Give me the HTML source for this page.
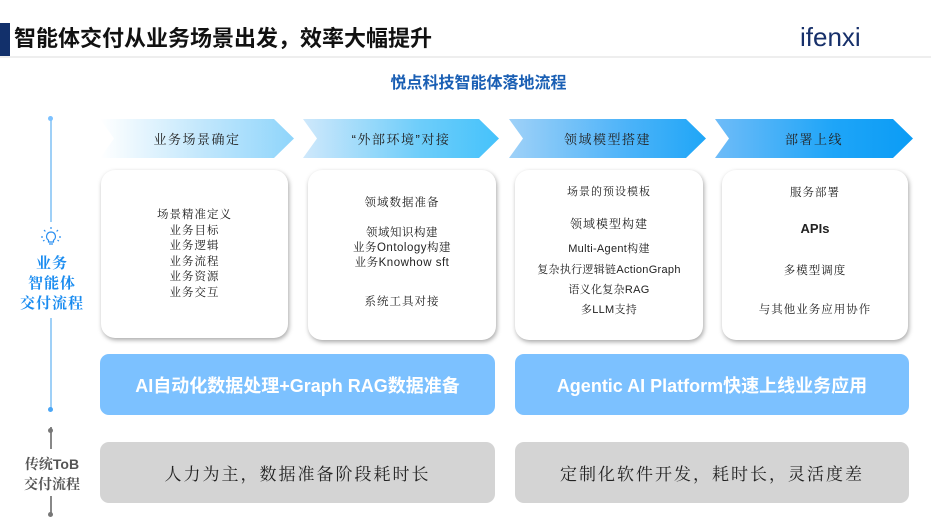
<!DOCTYPE html>
<html><head><meta charset="utf-8"><style>
*{margin:0;padding:0;box-sizing:border-box}
body{width:931px;height:525px;background:#fff;position:relative;overflow:hidden;font-family:"Liberation Sans","Noto Serif CJK SC",sans-serif;color:#222}
.a{position:absolute}
.card{position:absolute;background:#fff;border-radius:14px;box-shadow:1px 2px 5px rgba(0,0,0,.35);text-align:center;font-size:11.5px;color:#222;letter-spacing:1px}
.card div{position:absolute;left:0;right:0}
.chev{position:absolute;top:119px;height:39px;display:flex;align-items:center;justify-content:center;font-size:13px;color:#222;letter-spacing:1.5px;font-family:"Liberation Sans","Noto Serif CJK SC",serif;clip-path:polygon(0 0,calc(100% - 20px) 0,100% 50%,calc(100% - 20px) 100%,0 100%,14px 50%)}
.bar{position:absolute;border-radius:9px;display:flex;align-items:center;justify-content:center}
.blue{top:354px;height:61px;background:#7cc1ff;color:#fff;font-weight:bold;font-size:18px;font-family:"Liberation Sans","Noto Sans CJK SC",sans-serif}
.gray{top:442px;height:61px;background:#d4d4d4;color:#222;font-size:17px;letter-spacing:2px;font-family:"Liberation Sans","Noto Serif CJK SC",serif}
.serif{font-family:"Liberation Sans","Noto Serif CJK SC",serif}
</style></head><body>
<div class="a" style="left:0;top:23px;width:10px;height:34px;background:#12306b"></div>
<div class="a" style="left:14px;top:19px;font-size:22px;font-weight:bold;color:#111;font-family:'Noto Sans CJK SC',sans-serif;line-height:36px">智能体交付从业务场景出发，效率大幅提升</div>
<div class="a" style="left:0;top:56px;width:931px;height:2px;background:#eee"></div>
<div class="a" style="left:800px;top:22px;font-size:26px;color:#17306a;font-family:'Liberation Sans',sans-serif;line-height:30px">ifenxi</div>
<div class="a" style="left:0;top:69px;width:931px;text-align:center;padding-left:26px;font-size:16px;font-weight:bold;color:#1a5fb4;font-family:'Noto Sans CJK SC',sans-serif">悦点科技智能体落地流程</div>

<div class="a" style="left:50px;top:119px;width:1.5px;height:103px;background:#9fd0f7"></div>
<div class="a" style="left:50px;top:318px;width:1.5px;height:92px;background:#9fd0f7"></div>
<div class="a" style="left:48px;top:116px;width:5px;height:5px;border-radius:50%;background:#7cc1ff"></div>
<div class="a" style="left:48px;top:407px;width:5px;height:5px;border-radius:50%;background:#4aa6f5"></div>
<svg class="a" style="left:40px;top:226px" width="22" height="22" viewBox="0 0 22 22"><g stroke="#2b8ff0" stroke-width="1.2" fill="none"><path d="M11 6a4.5 4.5 0 0 0-2.5 8.2V16h5v-1.8A4.5 4.5 0 0 0 11 6z"/><path d="M9 18h4"/><path d="M11 1v2M4 4l1.4 1.4M18 4l-1.4 1.4M1 11h2M19 11h2M3 15l1.5-.8M19 15l-1.5-.8"/></g></svg>
<div class="a serif" style="left:10px;top:254px;width:84px;text-align:center;font-size:15px;font-weight:bold;color:#1a8cf0;line-height:20px;letter-spacing:1px">业务<br>智能体<br>交付流程</div>

<div class="a" style="left:50px;top:427px;width:1.5px;height:22px;background:#888"></div>
<div class="a" style="left:50px;top:496px;width:1.5px;height:18px;background:#888"></div>
<div class="a" style="left:48px;top:428px;width:5px;height:5px;border-radius:50%;background:#777"></div>
<div class="a" style="left:48px;top:512px;width:5px;height:5px;border-radius:50%;background:#777"></div>
<div class="a serif" style="left:10px;top:454px;width:84px;text-align:center;font-size:14px;color:#555;line-height:20px;font-weight:bold">传统ToB<br>交付流程</div>

<div class="chev" style="left:100px;width:194px;background:linear-gradient(90deg,#fff,#bfe6fc 55%,#8fd5fb)">业务场景确定</div>
<div class="chev" style="left:303px;width:196px;background:linear-gradient(90deg,#cfe8fb,#6dcdfa 60%,#45c2fb)">“外部环境”对接</div>
<div class="chev" style="left:509px;width:197px;background:linear-gradient(90deg,#9fd1f8,#4cb3f9 60%,#1fa6f7)">领域模型搭建</div>
<div class="chev" style="left:715px;width:198px;background:linear-gradient(90deg,#6fbcf8,#1ea5f8 60%,#0b9cf5)">部署上线</div>

<div class="card serif" style="left:101px;top:170px;width:187px;height:168px;line-height:15.5px"><div style="top:38px">场景精准定义<br>业务目标<br>业务逻辑<br>业务流程<br>业务资源<br>业务交互</div></div>
<div class="card serif" style="left:308px;top:170px;width:188px;height:170px"><div style="top:24px">领域数据准备</div><div style="top:56px;line-height:15px;letter-spacing:0.5px">领域知识构建<br>业务Ontology构建<br>业务Knowhow sft</div><div style="top:123px">系统工具对接</div></div>
<div class="card serif" style="left:515px;top:170px;width:188px;height:170px;font-size:11px;letter-spacing:0.3px"><div style="top:13px;letter-spacing:1px">场景的预设模板</div><div style="top:45px;font-size:12px;letter-spacing:1px">领域模型构建</div><div style="top:70px">Multi-Agent构建</div><div style="top:91px">复杂执行逻辑链ActionGraph</div><div style="top:111px">语义化复杂RAG</div><div style="top:131px">多LLM支持</div></div>
<div class="card serif" style="left:722px;top:170px;width:186px;height:170px"><div style="top:14px">服务部署</div><div style="top:51px;font-weight:bold;font-size:13px;letter-spacing:0">APIs</div><div style="top:92px">多模型调度</div><div style="top:131px">与其他业务应用协作</div></div>

<div class="bar blue" style="left:100px;width:395px">AI自动化数据处理+Graph RAG数据准备</div>
<div class="bar blue" style="left:515px;width:394px">Agentic AI Platform快速上线业务应用</div>
<div class="bar gray" style="left:100px;width:395px">人力为主，数据准备阶段耗时长</div>
<div class="bar gray" style="left:515px;width:394px">定制化软件开发，耗时长，灵活度差</div>
</body></html>
